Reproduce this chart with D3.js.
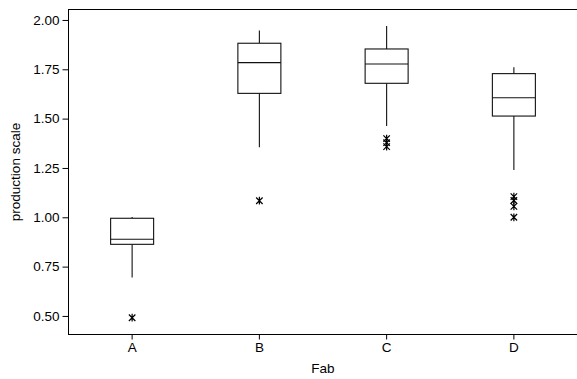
<!DOCTYPE html>
<html>
<head>
<meta charset="utf-8">
<script src="https://cdn.jsdelivr.net/npm/d3@7"></script>
<style>
  body { margin: 0; background: #fff; }
  text { font-family: "Liberation Sans", Arial, sans-serif; }
</style>
</head>
<body>
<div id="chart-area"></div>
<script>
const W = 577, H = 379
const PLOT = { LEFT: 68.5, RIGHT: 577.5, TOP: 9.5, BOTTOM: 334.5 }

// box statistics per Fab
const fabs = ["A", "B", "C", "D"]
const whiskerLow = [0.695, 1.355, 1.463, 1.240]
const q1 = [0.863, 1.628, 1.679, 1.513]
const median = [0.889, 1.784, 1.777, 1.606]
const q3 = [0.995, 1.882, 1.853, 1.728]
const whiskerHigh = [1.002, 1.946, 1.970, 1.760]
const outliers = [
  [0.491],
  [1.084],
  [1.399, 1.378, 1.358],
  [1.105, 1.085, 1.055, 1.000]
]
const yTicks = [0.50, 0.75, 1.00, 1.25, 1.50, 1.75, 2.00]

const svg = d3.select("#chart-area").append("svg")
  .attr("width", W)
  .attr("height", H)

const x = d3.scaleBand()
  .domain(fabs)
  .range([PLOT.LEFT, PLOT.RIGHT])

const y = d3.scaleLinear()
  .domain([0.406, 2.053])
  .range([PLOT.BOTTOM, PLOT.TOP])

// frame
svg.append("rect")
  .attr("x", PLOT.LEFT)
  .attr("y", PLOT.TOP)
  .attr("width", PLOT.RIGHT - PLOT.LEFT + 5)
  .attr("height", PLOT.BOTTOM - PLOT.TOP)
  .attr("fill", "none")
  .attr("stroke", "#000")
  .attr("stroke-width", 1)

// Y axis
const gy = svg.append("g")
  .attr("transform", `translate(${PLOT.LEFT},0)`)
  .call(d3.axisLeft(y).tickValues(yTicks).tickFormat(d3.format(".2f")).tickSize(6).tickPadding(3))
gy.select(".domain").remove()
gy.selectAll("text").style("font-size", "13.5px").attr("fill", "#000")

// X axis
const gx = svg.append("g")
  .attr("transform", `translate(0,${PLOT.BOTTOM})`)
  .call(d3.axisBottom(x).tickSize(5).tickPadding(2.5))
gx.select(".domain").remove()
gx.selectAll("text").style("font-size", "13.5px").attr("fill", "#000")

// axis titles
svg.append("text")
  .attr("x", (PLOT.LEFT + PLOT.RIGHT) / 2)
  .attr("y", 373)
  .attr("text-anchor", "middle")
  .style("font-size", "13.5px")
  .text("Fab")

svg.append("text")
  .attr("transform", `translate(20,${(PLOT.TOP + PLOT.BOTTOM) / 2}) rotate(-90)`)
  .attr("text-anchor", "middle")
  .style("font-size", "13.5px")
  .text("production scale")

const data = fabs.map((f, i) => ({
  fab: f, lo: whiskerLow[i], q1: q1[i], med: median[i], q3: q3[i], hi: whiskerHigh[i], out: outliers[i]
}))

const boxW = 43
const cx = d => x(d.fab) + x.bandwidth() / 2

const boxes = svg.selectAll("g.box")
  .data(data)
  .join("g")
  .attr("class", "box")
  .attr("stroke", "#111")
  .attr("stroke-width", 1.1)
  .attr("fill", "none")

// whiskers
boxes.append("line")
  .attr("x1", cx).attr("x2", cx)
  .attr("y1", d => y(d.lo)).attr("y2", d => y(d.q1))
boxes.append("line")
  .attr("x1", cx).attr("x2", cx)
  .attr("y1", d => y(d.q3)).attr("y2", d => y(d.hi))

// box
boxes.append("rect")
  .attr("x", d => cx(d) - boxW / 2)
  .attr("y", d => y(d.q3))
  .attr("width", boxW)
  .attr("height", d => y(d.q1) - y(d.q3))
  .attr("fill", "#fff")

// median
boxes.append("line")
  .attr("x1", d => cx(d) - boxW / 2).attr("x2", d => cx(d) + boxW / 2)
  .attr("y1", d => y(d.med)).attr("y2", d => y(d.med))

// minitab-style asterisk: an X with a vertical stroke
const minitabStar = {
  draw(ctx, size) {
    const r = Math.sqrt(size) / 2
    ctx.moveTo(-r, -r); ctx.lineTo(r, r)
    ctx.moveTo(-r, r); ctx.lineTo(r, -r)
    ctx.moveTo(0, -r * 1.2); ctx.lineTo(0, r * 1.2)
  }
}
const star = d3.symbol().type(minitabStar).size(42)
boxes.selectAll("path.out")
  .data(d => d.out.map(v => ({ v, c: cx(d) })))
  .join("path")
  .attr("class", "out")
  .attr("d", star)
  .attr("transform", d => `translate(${d.c},${y(d.v)})`)
  .attr("stroke", "#000")
  .attr("stroke-width", 1.2)
</script>
</body>
</html>
